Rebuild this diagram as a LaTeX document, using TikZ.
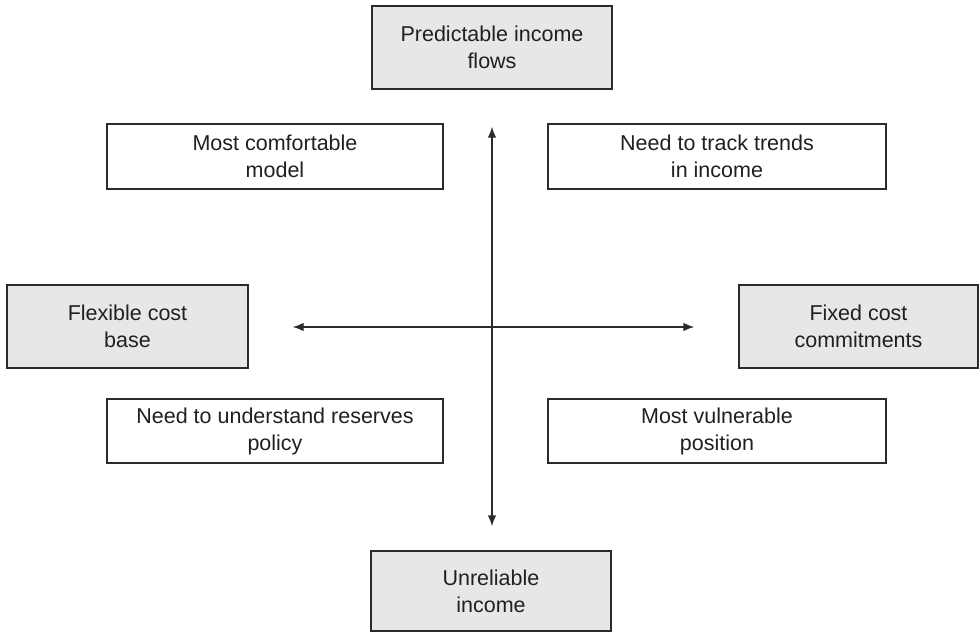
\documentclass[tikz,border=0pt]{standalone}
\usepackage{fontspec}
\setmainfont{Liberation Sans}
\usetikzlibrary{arrows.meta}
\definecolor{boxgray}{HTML}{E6E7E8}
\definecolor{linec}{HTML}{2B2B2B}
\definecolor{txtc}{HTML}{231F20}
\begin{document}
\begin{tikzpicture}[x=1pt,y=-1pt,
  basebox/.style={draw=linec, line width=1.4pt, rectangle, align=center, inner sep=0pt,
    text=txtc, font=\fontsize{21.5}{27}\selectfont},
  graybox/.style={basebox, fill=boxgray},
  whitebox/.style={basebox, fill=white},
  axis/.style={draw=linec, line width=1.4pt, {Latex[length=11pt,width=8.5pt]}-{Latex[length=11pt,width=8.5pt]}}
]
\useasboundingbox (0,0) rectangle (980,632);
\node[graybox, minimum width=240pt, minimum height=83pt] (top) at (492,47.5) {Predictable income\\flows};
\node[graybox, minimum width=240pt, minimum height=80pt] (bottom) at (491,591) {Unreliable\\income};
\node[graybox, minimum width=241pt, minimum height=83pt] (left) at (127.5,326.5) {Flexible cost\\base};
\node[graybox, minimum width=239pt, minimum height=83pt] (right) at (858.5,326.5) {Fixed cost\\commitments};
\node[whitebox, minimum width=336pt, minimum height=65pt] (tl) at (275,156.5) {Most comfortable\\model};
\node[whitebox, minimum width=338pt, minimum height=65pt] (tr) at (717,156.5) {Need to track trends\\in income};
\node[whitebox, minimum width=336pt, minimum height=64pt] (bl) at (275,431) {Need to understand reserves\\policy};
\node[whitebox, minimum width=338pt, minimum height=64pt] (br) at (717,431) {Most vulnerable\\position};
\draw[axis, shorten <=37pt, shorten >=24pt] (top.south -| 492,0) -- (bottom.north -| 492,0);
\draw[axis, shorten <=44pt, shorten >=44pt] (left.east |- 0,327) -- (right.west |- 0,327);
\end{tikzpicture}
\end{document}
